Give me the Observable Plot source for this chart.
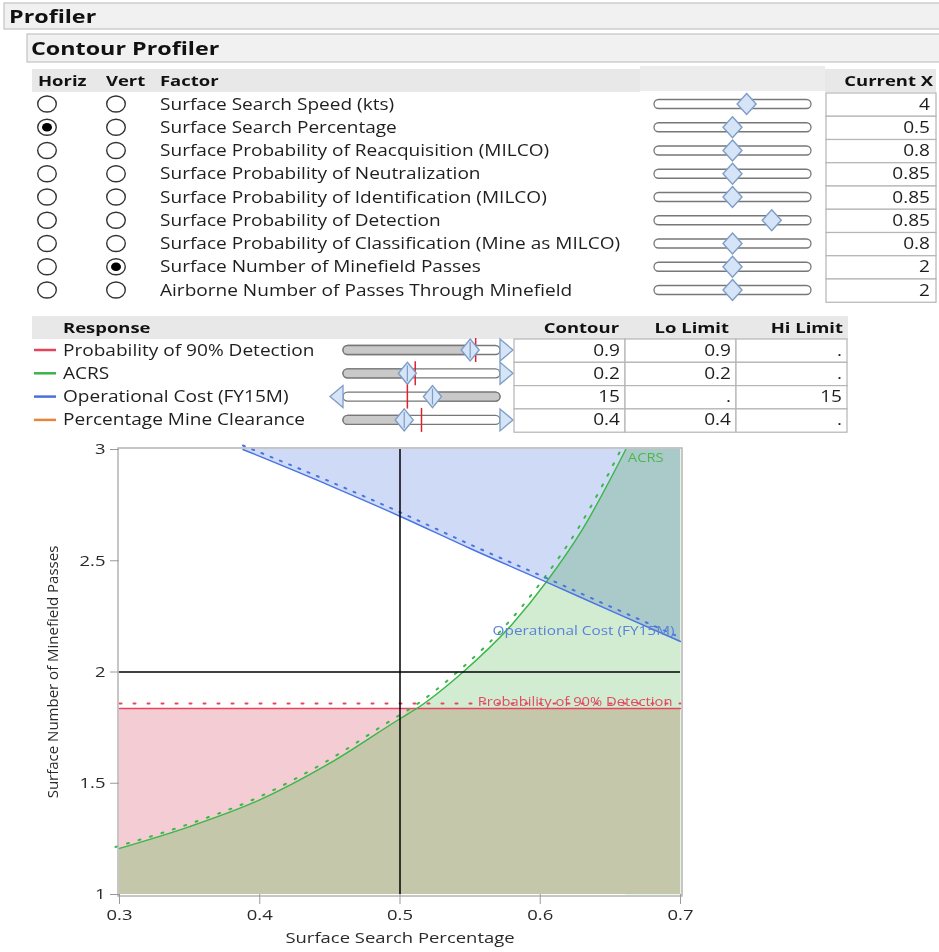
<!DOCTYPE html>
<html><head><meta charset="utf-8">
<script src="https://cdn.jsdelivr.net/npm/d3@7"></script>
<script src="https://cdn.jsdelivr.net/npm/@observablehq/plot@0.6"></script>
<style>
body{margin:0;background:#fff;}
#page{position:relative;width:939px;height:952px;overflow:hidden;font-family:"Open Sans",sans-serif;}
#panel{position:absolute;left:0;top:0;}
#chart{position:absolute;left:0;top:440px;}
</style></head><body><div id="page"><svg id="panel" width="939" height="440"></svg><div id="chart"></div></div>
<script>
// ---------- panel data ----------
const factorNames = [
  "Surface Search Speed (kts)",
  "Surface Search Percentage",
  "Surface Probability of Reacquisition (MILCO)",
  "Surface Probability of Neutralization",
  "Surface Probability of Identification (MILCO)",
  "Surface Probability of Detection",
  "Surface Probability of Classification (Mine as MILCO)",
  "Surface Number of Minefield Passes",
  "Airborne Number of Passes Through Minefield"
];
const horizSelected = [false, true, false, false, false, false, false, false, false];
const vertSelected  = [false, false, false, false, false, false, false, true, false];
const factorKnob = [0.59, 0.50, 0.50, 0.50, 0.50, 0.75, 0.50, 0.50, 0.50];
const currentX = ["4", "0.5", "0.8", "0.85", "0.85", "0.85", "0.8", "2", "2"];

const responseNames = ["Probability of 90% Detection", "ACRS", "Operational Cost (FY15M)", "Percentage Mine Clearance"];
const responseColors = ["#e2445c", "#3fb24a", "#4a6fe0", "#e8843c"];
const responseKnob = [0.81, 0.41, 0.57, 0.39];
const responseContourMark = [0.845, 0.46, 0.41, 0.50];
const responseLimitSide = ["lo", "lo", "hi", "lo"];
const contourValues = ["0.9", "0.2", "15", "0.4"];
const loLimits = ["0.9", "0.2", ".", "0.4"];
const hiLimits = [".", ".", "15", "."];

// ---------- chart data ----------
const xTicks = [0.3, 0.4, 0.5, 0.6, 0.7];
const yTicks = [1, 1.5, 2, 2.5, 3];
const xDomain = [0.3, 0.7];
const yDomain = [1, 3];
const currentPoint = {x: 0.5, y: 2};

const acrsX = [0.3, 0.35, 0.4, 0.45, 0.5, 0.512, 0.545, 0.58, 0.605, 0.63, 0.661];
const acrsY = [1.207, 1.305, 1.425, 1.59, 1.79, 1.836, 2.0, 2.215, 2.41, 2.64, 3.0];
const costX = [0.388, 0.45, 0.5, 0.55, 0.6045, 0.65, 0.7];
const costY = [3.0, 2.838, 2.70, 2.555, 2.404, 2.276, 2.137];
const detectX = [0.3, 0.7];
const detectY = [1.836, 1.836];

const labelACRS = "ACRS";
const labelCost = "Operational Cost (FY15M)";
const labelDetect = "Probability of 90% Detection";

// ---------- panel drawing ----------
const SX = 1.23; // horizontal stretch of the original screenshot
const svg = d3.select("#panel");
const FONT = "'Open Sans', sans-serif";
const txt = "#1e1e1e";

function label(x, y, s, {size = 15.5, weight = 400, anchor = "start", fill = txt, sx = SX} = {}) {
  svg.append("text").attr("transform", `translate(${x},${y}) scale(${sx},1)`).text(s)
    .attr("font-family", FONT).attr("font-weight", weight).attr("font-size", size)
    .attr("fill", fill).attr("text-anchor", anchor);
}
function bar(x, y, w, h, s, tx) {
  svg.append("rect").attr("x", x).attr("y", y).attr("width", w).attr("height", h)
    .attr("fill", "#f1f1f1").attr("stroke", "#c4c4c4").attr("stroke-width", 1.2);
  label(tx, y + h / 2 + 6.5, s, {size: 18.5, weight: 700, fill: "#111", sx: 1.26});
}
bar(4, 3, 940, 26, "Profiler", 9);
bar(27, 34, 920, 28, "Contour Profiler", 31);

svg.append("rect").attr("x", 32).attr("y", 69).attr("width", 608).attr("height", 23).attr("fill", "#e8e8e8");
svg.append("rect").attr("x", 640).attr("y", 66).attr("width", 185).attr("height", 25).attr("fill", "#ececec");
svg.append("rect").attr("x", 825).attr("y", 69).attr("width", 111).attr("height", 23).attr("fill", "#e8e8e8");
const hdr = (x, y, s, anchor = "start") => label(x, y, s, {size: 15, weight: 700, fill: "#111", anchor});
hdr(38, 86, "Horiz"); hdr(106, 86, "Vert"); hdr(160, 86, "Factor"); hdr(933, 86, "Current X", "end");

const rowY = i => 104 + i * 23.25;
factorNames.forEach((name, i) => {
  const cy = rowY(i);
  [[47, horizSelected[i]], [116, vertSelected[i]]].forEach(([cx, sel]) => {
    svg.append("ellipse").attr("cx", cx).attr("cy", cy).attr("rx", 9.3).attr("ry", 8).attr("fill", "#fff").attr("stroke", "#333").attr("stroke-width", 1.4);
    if (sel) svg.append("ellipse").attr("cx", cx).attr("cy", cy).attr("rx", 5).attr("ry", 4.3).attr("fill", "#000");
  });
  label(160, cy + 5.5, name);
  svg.append("rect").attr("x", 654).attr("y", cy - 4.5).attr("width", 157).attr("height", 9).attr("rx", 4.5)
    .attr("fill", "#fff").attr("stroke", "#777").attr("stroke-width", 1.3);
  const kx = 654 + factorKnob[i] * 157;
  svg.append("path").attr("d", `M${kx},${cy - 10.5}L${kx + 9.5},${cy}L${kx},${cy + 10.5}L${kx - 9.5},${cy}Z`)
    .attr("fill", "#d5e4f7").attr("stroke", "#7d9dc6").attr("stroke-width", 1.4);
  svg.append("rect").attr("x", 826).attr("y", 93 + i * 23.25).attr("width", 110).attr("height", 23.25)
    .attr("fill", "#fff").attr("stroke", "#b5b5b5").attr("stroke-width", 1.2);
  label(930, cy + 5.5, currentX[i], {anchor: "end"});
});

svg.append("rect").attr("x", 32).attr("y", 316).attr("width", 816).attr("height", 23).attr("fill", "#e8e8e8");
hdr(63, 333, "Response"); hdr(619, 333, "Contour", "end"); hdr(729, 333, "Lo Limit", "end"); hdr(843, 333, "Hi Limit", "end");
const rrowY = i => 350 + i * 23.3;
responseNames.forEach((name, i) => {
  const cy = rrowY(i);
  svg.append("line").attr("x1", 34).attr("x2", 56).attr("y1", cy).attr("y2", cy)
    .attr("stroke", responseColors[i]).attr("stroke-width", 2.5);
  label(63, cy + 5.5, name);
  const x0 = 343, w = 157;
  const kx = x0 + responseKnob[i] * w;
  svg.append("rect").attr("x", x0).attr("y", cy - 4.5).attr("width", w).attr("height", 9).attr("rx", 4.5)
    .attr("fill", "#fff").attr("stroke", "#777").attr("stroke-width", 1.3);
  if (responseLimitSide[i] === "lo") {
    svg.append("rect").attr("x", x0).attr("y", cy - 4.5).attr("width", kx - x0).attr("height", 9).attr("rx", 4.5)
      .attr("fill", "#c9c9c9").attr("stroke", "#777").attr("stroke-width", 1.3);
    svg.append("path").attr("d", `M${x0 + w},${cy - 11}L${x0 + w + 13},${cy}L${x0 + w},${cy + 11}Z`)
      .attr("fill", "#d5e4f7").attr("stroke", "#7d9dc6").attr("stroke-width", 1.3);
  } else {
    svg.append("rect").attr("x", kx).attr("y", cy - 4.5).attr("width", x0 + w - kx).attr("height", 9).attr("rx", 4.5)
      .attr("fill", "#c9c9c9").attr("stroke", "#777").attr("stroke-width", 1.3);
    svg.append("path").attr("d", `M${x0},${cy - 11}L${x0 - 13},${cy}L${x0},${cy + 11}Z`)
      .attr("fill", "#d5e4f7").attr("stroke", "#7d9dc6").attr("stroke-width", 1.3);
  }
  const mx = x0 + responseContourMark[i] * w;
  svg.append("line").attr("x1", mx).attr("x2", mx).attr("y1", cy - 12).attr("y2", cy + 12)
    .attr("stroke", "#e0202e").attr("stroke-width", 1.5);
  svg.append("path").attr("d", `M${kx},${cy - 11}L${kx + 9},${cy}L${kx},${cy + 11}L${kx - 9},${cy}Z`)
    .attr("fill", "#d5e4f7").attr("stroke", "#7d9dc6").attr("stroke-width", 1.4);
  svg.append("line").attr("x1", kx).attr("x2", kx).attr("y1", cy - 8).attr("y2", cy + 8)
    .attr("stroke", "#7d9dc6").attr("stroke-width", 1.2);
  [[514, contourValues[i]], [625, loLimits[i]], [736, hiLimits[i]]].forEach(([cx, v]) => {
    svg.append("rect").attr("x", cx).attr("y", 339 + i * 23.3).attr("width", 111).attr("height", 23.3)
      .attr("fill", "#fff").attr("stroke", "#b5b5b5").attr("stroke-width", 1.2);
    label(cx + 106, cy + 5.5, v, {anchor: "end"});
  });
});

// ---------- contour chart ----------
const acrs = acrsX.map((x, i) => ({x, y: acrsY[i]}));
const cost = costX.map((x, i) => ({x, y: costY[i]}));
const detect = detectX.map((x, i) => ({x, y: detectY[i]}));
const acrsTop = acrs[acrs.length - 1];
const acrsRest = [acrsTop, {x: xDomain[1], y: yDomain[1]}]; // region right of where ACRS leaves the frame
const acrsArea = [...acrs, {x: xDomain[1], y: yDomain[1]}];

const C = {
  redLine: "#e8455c", greenLine: "#3db64a", blueLine: "#4a74e2",
  redFill: "#f4cdd4", greenFill: "#d2ecd2", blueFill: "#cfdbf6", bothFill: "#c4c7aa"
};
const CURVE = "monotone-x";

const chart = Plot.plot({
  width: 700, height: 512,
  marginLeft: 119, marginRight: 20, marginTop: 9, marginBottom: 58,
  style: {fontFamily: FONT, fontSize: "15px", color: "#2a2a2a", background: "transparent", overflow: "visible"},
  x: {domain: xDomain},
  y: {domain: yDomain},
  marks: [
    Plot.areaY(detect, {x: "x", y1: () => yDomain[0], y2: "y", fill: C.redFill}),
    Plot.areaY(acrs, {x: "x", y1: () => yDomain[0], y2: "y", fill: C.greenFill, curve: CURVE}),
    Plot.areaY(acrsRest, {x: "x", y1: () => yDomain[0], y2: "y", fill: C.greenFill, stroke: C.greenFill, strokeWidth: 1.2}),
    // region satisfying both the detection and ACRS limits
    Plot.areaY(acrsArea, {x: "x", y1: () => yDomain[0], y2: d => Math.min(d.y, detectY[0]), fill: C.bothFill, curve: CURVE}),
    Plot.areaY(cost, {x: "x", y1: "y", y2: () => yDomain[1], fill: C.blueFill, curve: CURVE, mixBlendMode: "multiply"}),
    Plot.line(detect, {x: "x", y: "y", stroke: C.redLine, strokeDasharray: "2,12", strokeWidth: 2, dy: -5}),
    Plot.line(detect, {x: "x", y: "y", stroke: C.redLine, strokeWidth: 1.3}),
    Plot.line(acrs, {x: "x", y: "y", stroke: C.greenLine, strokeDasharray: "2,10", strokeWidth: 2, curve: CURVE, dx: -4, dy: -1.5}),
    Plot.line(acrs, {x: "x", y: "y", stroke: C.greenLine, strokeWidth: 1.4, curve: CURVE}),
    Plot.line(cost, {x: "x", y: "y", stroke: C.blueLine, strokeDasharray: "2,8", strokeWidth: 2, curve: CURVE, dy: -4}),
    Plot.line(cost, {x: "x", y: "y", stroke: C.blueLine, strokeWidth: 1.4, curve: CURVE}),
    Plot.ruleX([currentPoint], {x: "x", stroke: "#000", strokeWidth: 1.5}),
    Plot.ruleY([currentPoint], {y: "y", stroke: "#000", strokeWidth: 1.3}),
    Plot.text([acrsTop], {x: "x", y: "y", text: () => labelACRS, textAnchor: "start", dx: 2, dy: 9, fill: "#4cb84c", fontSize: 12}),
    Plot.text([cost[cost.length - 1]], {x: "x", y: "y", text: () => labelCost, textAnchor: "end", dx: -6, dy: -11, fill: "#5a82d8", fontSize: 12.5}),
    Plot.text([detect[detect.length - 1]], {x: "x", y: "y", text: () => labelDetect, textAnchor: "end", dx: -8, dy: -6, fill: "#e04a64", fontSize: 12}),
    Plot.frame({stroke: "#b4b4b4", strokeWidth: 1.5, inset: -1.5}),
    Plot.axisX({ticks: xTicks, tickFormat: d3.format(".1f"), tickSize: 10, tickPadding: 5, stroke: "#9a9a9a",
      label: "Surface Search Percentage", labelAnchor: "center", labelArrow: "none", labelOffset: 48}),
    Plot.axisY({ticks: yTicks, tickFormat: d => String(d), tickSize: 9, tickPadding: 5, stroke: "#9a9a9a",
      label: "Surface Number of Minefield Passes", labelAnchor: "center", labelArrow: "none", labelOffset: 72})
  ]
});
document.getElementById("chart").appendChild(chart);

// reproduce the horizontal stretch of the screenshot on the chart's texts
chart.querySelectorAll("text").forEach(el => {
  const t = el.getAttribute("transform") || "";
  if (t.includes("rotate")) return;
  const xs = el.getAttribute("x");
  const x = xs != null && isFinite(+xs) ? +xs : 0;
  el.setAttribute("transform", `${t} translate(${x},0) scale(${SX},1) translate(${-x},0)`);
});
</script></body></html>
